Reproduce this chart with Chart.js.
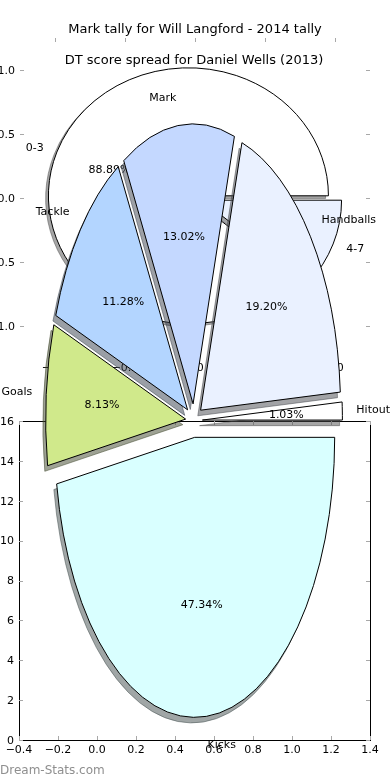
<!DOCTYPE html>
<html><head><meta charset="utf-8">
<script src="https://cdn.jsdelivr.net/npm/chart.js@4.4.1/dist/chart.umd.min.js"></script>
<style>
html,body{margin:0;padding:0;background:#fff;}
#wrap{position:relative;width:390px;height:780px;overflow:hidden;background:#fff;}
#wrap canvas{position:absolute;left:0;top:0;}
</style></head><body>
<div id="wrap">
<canvas id="axes1" width="390" height="780"></canvas>
<canvas id="pie1" width="390" height="780"></canvas>
<canvas id="axes2" width="390" height="780"></canvas>
<canvas id="pie2" width="390" height="780"></canvas>
</div>
<script>
// ---------- data ----------
const pie1Title = 'Mark tally for Will Langford - 2014 tally';
const pie1Labels = ['4-7', '0-3'];
const pie1Values = [11.11, 88.89];

const pie2Title = 'DT score spread for Daniel Wells (2013)';
const pie2Labels = ['Kicks', 'Goals', 'Tackle', 'Mark', 'Handballs', 'Hitout'];
const pie2Values = [47.34, 8.13, 11.28, 13.02, 19.20, 1.03];

const axes1XTicks = [-1.0, -0.5, 0.0, 0.5, 1.0];
const axes1YTicks = [-1.0, -0.5, 0.0, 0.5, 1.0];
const axes2XTicks = [-0.4, -0.2, 0.0, 0.2, 0.4, 0.6, 0.8, 1.0, 1.2, 1.4];
const axes2YTicks = [0, 2, 4, 6, 8, 10, 12, 14, 16];
const watermarkText = 'Dream-Stats.com';

// ---------- styles ----------
const pie1Colors = ['#eaf1ff', '#ffffff'];
const pie1Explode = [0.05, 0.05];
const pie2Colors = ['#d9ffff', '#d0e98b', '#b3d5ff', '#c4d8ff', '#eaf1ff', '#ffffff'];
const pie2Explode = [0.06, 0.06, 0.06, 0.06, 0.06, 0.06];
const FONT = "'DejaVu Sans', sans-serif";

function fmt(v, dec) {
  const s = Math.abs(v).toFixed(dec);
  return (v < -1e-9 ? '\u2212' : '') + s;
}
function shadowColor(hex) {
  const h = hex.replace('#', '');
  const r = parseInt(h.substr(0, 2), 16), g = parseInt(h.substr(2, 2), 16), b = parseInt(h.substr(4, 2), 16);
  return 'rgba(' + Math.round(r * 0.3) + ',' + Math.round(g * 0.3) + ',' + Math.round(b * 0.3) + ',0.5)';
}

// draws the library's arc elements squashed into an ellipse, exploded, with shadows
function ellipsePie(o) {
  return {
    id: 'ellipsePie',
    beforeDatasetsDraw(chart) {
      const ctx = chart.ctx;
      const meta = chart.getDatasetMeta(0);
      const base = ctx.getTransform();
      const origStroke = ctx.stroke;
      ctx.stroke = function () { this.save(); this.setTransform(base); origStroke.call(this); this.restore(); };
      const pass = (shadow) => meta.data.forEach((el, i) => {
        const rx = el.outerRadius, k = o.ry / rx;
        const mid = (el.startAngle + el.endAngle) / 2;
        const E = o.explode[i] * rx;
        ctx.save();
        if (shadow) ctx.translate(o.shadow[0], o.shadow[1]);
        ctx.translate(el.x, el.y); ctx.scale(1, k); ctx.translate(-el.x, -el.y);
        ctx.translate(Math.cos(mid) * E, Math.sin(mid) * E);
        if (shadow) {
          const op = el.options;
          const c = shadowColor(op.backgroundColor);
          el.options = Object.assign({}, op, { backgroundColor: c, borderColor: c });
          el.draw(ctx);
          el.options = op;
        } else {
          el.draw(ctx);
        }
        ctx.restore();
      });
      pass(true);
      pass(false);
      delete ctx.stroke;
      return false;
    },
    afterDraw(chart) {
      const ctx = chart.ctx;
      const meta = chart.getDatasetMeta(0);
      const data = chart.data.datasets[0].data;
      const total = data.reduce((a, b) => a + b, 0);
      ctx.save();
      ctx.fillStyle = '#000';
      ctx.font = '11px ' + FONT;
      ctx.textBaseline = 'middle';
      meta.data.forEach((el, i) => {
        const rx = el.outerRadius, ry = o.ry, e = o.explode[i];
        const mid = (el.startAngle + el.endAngle) / 2;
        const c = Math.cos(mid), s = Math.sin(mid);
        const ex = el.x + c * e * rx, ey = el.y + s * e * ry;
        ctx.textAlign = c > 0 ? 'left' : 'right';
        ctx.fillText(chart.data.labels[i], ex + c * 1.1 * rx, ey + s * 1.1 * ry + 0.5);
        ctx.textAlign = 'center';
        ctx.fillText((data[i] / total * 100).toFixed(2) + '%', ex + c * 0.6 * rx, ey + s * 0.6 * ry + 0.5);
      });
      if (o.title) {
        ctx.font = '13px ' + FONT;
        ctx.textAlign = 'center';
        ctx.fillText(o.title[0], o.title[1], o.title[2]);
      }
      ctx.restore();
    }
  };
}

// axes: inward tick marks + labels drawn through the chart's own scales
function axesPlugin(o) {
  return {
    id: 'axesDecor',
    afterDraw(chart) {
      const ctx = chart.ctx;
      const a = chart.chartArea;
      const xs = chart.scales.x, ys = chart.scales.y;
      ctx.save();
      if (o.frame) {
        ctx.strokeStyle = '#000';
        ctx.lineWidth = 1;
        ctx.strokeRect(a.left + 0.5, a.top + 0.5, a.right - a.left, a.bottom - a.top);
      }
      ctx.strokeStyle = '#a8a8a8';
      ctx.lineWidth = 1;
      ctx.beginPath();
      o.xTicks.forEach(v => {
        const x = Math.round(xs.getPixelForValue(v)) + 0.5;
        ctx.moveTo(x, a.bottom); ctx.lineTo(x, a.bottom - 4);
        ctx.moveTo(x, a.top); ctx.lineTo(x, a.top + 4);
      });
      o.yTicks.forEach(v => {
        const y = Math.round(ys.getPixelForValue(v)) + 0.5;
        ctx.moveTo(a.left, y); ctx.lineTo(a.left + 4, y);
        ctx.moveTo(a.right, y); ctx.lineTo(a.right - 4, y);
      });
      ctx.stroke();
      ctx.fillStyle = '#000';
      ctx.font = '11px ' + FONT;
      ctx.textBaseline = 'middle';
      ctx.textAlign = 'center';
      o.xTicks.forEach(v => ctx.fillText(fmt(v, o.xDec), xs.getPixelForValue(v), a.bottom + 10));
      ctx.textAlign = 'right';
      o.yTicks.forEach(v => ctx.fillText(fmt(v, o.yDec), a.left - 5, ys.getPixelForValue(v) + 1));
      if (o.title) {
        ctx.font = '13px ' + FONT;
        ctx.textAlign = 'center';
        ctx.fillText(o.title, (a.left + a.right) / 2, o.titleY);
      }
      if (o.watermark) {
        ctx.font = '12px ' + FONT;
        ctx.fillStyle = '#8f8f8f';
        ctx.textAlign = 'left';
        ctx.fillText(o.watermark, 0, 771);
      }
      ctx.restore();
    }
  };
}

const common = { responsive: false, animation: false, events: [], devicePixelRatio: 1 };

function makeAxes(id, pad, xr, yr, deco) {
  return new Chart(document.getElementById(id), {
    type: 'scatter',
    data: { datasets: [] },
    options: Object.assign({}, common, {
      layout: { padding: pad },
      plugins: { legend: { display: false }, tooltip: { enabled: false } },
      scales: {
        x: { type: 'linear', display: false, min: xr[0], max: xr[1] },
        y: { type: 'linear', display: false, min: yr[0], max: yr[1] }
      }
    }),
    plugins: [axesPlugin(deco)]
  });
}

makeAxes('axes1', { left: 20, right: 20, top: 38, bottom: 422 }, [-1.25, 1.25], [-1.25, 1.25],
  { frame: false, xTicks: axes1XTicks, yTicks: axes1YTicks, xDec: 1, yDec: 1, title: pie1Title, titleY: 30 });

makeAxes('axes2', { left: 19, right: 20, top: 421, bottom: 40 }, [-0.4, 1.4], [0, 16],
  { frame: true, xTicks: axes2XTicks, yTicks: axes2YTicks, xDec: 1, yDec: 0, watermark: watermarkText });

new Chart(document.getElementById('pie1'), {
  type: 'pie',
  data: { labels: pie1Labels, datasets: [{ data: pie1Values, backgroundColor: pie1Colors, borderColor: '#000', borderWidth: 1, borderJoinStyle: 'miter' }] },
  options: Object.assign({}, common, {
    rotation: 90, radius: 140,
    layout: { padding: { left: 0, right: 0, top: 0, bottom: 384 } },
    plugins: { legend: { display: false }, tooltip: { enabled: false } }
  }),
  plugins: [ellipsePie({ ry: 128, explode: pie1Explode, shadow: [-2.8, 2.6] })]
});

new Chart(document.getElementById('pie2'), {
  type: 'pie',
  data: { labels: pie2Labels, datasets: [{ data: pie2Values, backgroundColor: pie2Colors, borderColor: '#000', borderWidth: 1, borderJoinStyle: 'miter' }] },
  options: Object.assign({}, common, {
    rotation: 90, radius: 140,
    layout: { padding: { left: 0, right: 2, top: 61.2, bottom: 0 } },
    plugins: { legend: { display: false }, tooltip: { enabled: false } }
  }),
  plugins: [ellipsePie({ ry: 280, explode: pie2Explode, shadow: [-2.8, 5.6], title: [pie2Title, 194, 61] })]
});
</script>
</body></html>
